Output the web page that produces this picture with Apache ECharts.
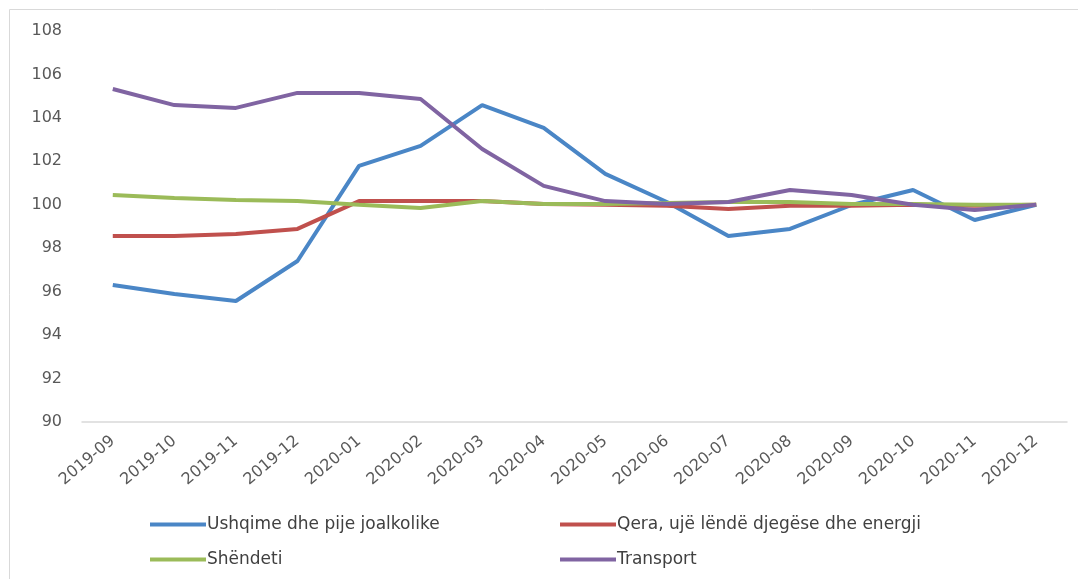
<!DOCTYPE html>
<html>
<head>
<meta charset="utf-8">
<script src="https://cdn.jsdelivr.net/npm/echarts@6/dist/echarts.min.js"></script>
<style>
html,body{margin:0;padding:0;background:#fff;}
#c{width:1078px;height:579px;}
</style>
</head>
<body>
<div id="c"></div>
<script>
const categories = ['2019-09','2019-10','2019-11','2019-12','2020-01','2020-02','2020-03','2020-04','2020-05','2020-06','2020-07','2020-08','2020-09','2020-10','2020-11','2020-12'];
const ushqime = [96.31,95.89,95.57,97.41,101.79,102.71,104.59,103.54,101.42,100.13,98.56,98.89,99.99,100.68,99.30,100.0];
const qera = [98.56,98.56,98.66,98.89,100.17,100.17,100.17,100.04,100.0,99.95,99.81,99.95,99.95,100.0,99.95,100.0];
const shendeti = [100.45,100.31,100.22,100.17,100.0,99.85,100.17,100.04,100.04,100.08,100.13,100.13,100.04,100.04,100.0,100.0];
const transport = [105.33,104.59,104.46,105.15,105.15,104.87,102.57,100.87,100.17,100.04,100.13,100.68,100.45,100.0,99.76,100.0];
const seriesNames = ['Ushqime dhe pije joalkolike','Qera, ujë lëndë djegëse dhe energji','Shëndeti','Transport'];
const yTicks = {min:90, max:108, interval:2};

const colors = ['#4a86c6','#c0504d','#9bbb59','#8064a2'];
const chart = echarts.init(document.getElementById('c'));
const font = 'DejaVu Sans, sans-serif';
function lg(name, left, top){
  return {data:[name], left:left, top:top, itemWidth:56, itemHeight:4, itemGap:0,
    icon:'rect', textStyle:{fontFamily:font, fontSize:17, color:'#404040', padding:[0,0,0,-4]}};
}
chart.setOption({
  animation:false,
  color:colors,
  graphic:[{type:'rect', shape:{x:9.5,y:9.5,width:1100,height:600}, style:{fill:'none', stroke:'#d9d9d9', lineWidth:1}, silent:true}],
  grid:{left:82, right:11, top:31, bottom:157},
  legend:[lg(seriesNames[0],145,511), lg(seriesNames[1],555,511), lg(seriesNames[2],145,546), lg(seriesNames[3],555,546)],
  xAxis:{type:'category', data:categories, boundaryGap:true,
    axisLine:{lineStyle:{color:'#d9d9d9', width:1.5}}, axisTick:{show:false},
    axisLabel:{rotate:40, fontFamily:font, fontSize:16, color:'#595959', margin:17}},
  yAxis:{type:'value', min:yTicks.min, max:yTicks.max, interval:yTicks.interval,
    splitLine:{show:false}, axisLine:{show:false}, axisTick:{show:false},
    axisLabel:{fontFamily:font, fontSize:16, color:'#595959', margin:20}},
  series:[ushqime,qera,shendeti,transport].map((d,i)=>({
    name:seriesNames[i], type:'line', data:d, symbol:'none',
    lineStyle:{width:4, color:colors[i]}, itemStyle:{color:colors[i]}
  }))
});
</script>
</body>
</html>
